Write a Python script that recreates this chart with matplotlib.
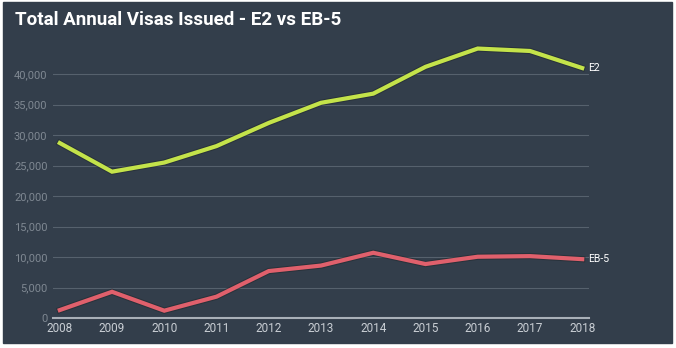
import matplotlib.pyplot as plt
import matplotlib.patheffects as pe
from matplotlib.patches import Rectangle

years = [2008, 2009, 2010, 2011, 2012, 2013, 2014, 2015, 2016, 2017, 2018]
e2 = [28700, 24000, 25500, 28200, 32000, 35300, 36800, 41200, 44200, 43800, 41000]
eb5 = [1300, 4300, 1200, 3500, 7700, 8600, 10700, 8850, 10050, 10150, 9650]
yticks = [0, 5000, 10000, 15000, 20000, 25000, 30000, 35000, 40000]

bg = "#333e4b"
plt.rcParams["font.family"] = ["Roboto", "DejaVu Sans"]

fig = plt.figure(figsize=(6.76, 3.48), dpi=100, facecolor="white")
W, H = 676, 348
fig.add_artist(Rectangle((3 / W, 5 / H), 669 / W, 341 / H,
                         transform=fig.transFigure, color=bg, zorder=-5))

ax = fig.add_axes([53 / W, (H - 318) / H, (589 - 53) / W, (318 - 40) / H])
ax.set_facecolor(bg)
ax.patch.set_alpha(0)
ax.set_zorder(2)

outline = [pe.Stroke(linewidth=4.5, foreground="#222a30", alpha=0.6), pe.Normal()]
ax.plot(years, e2, color="#c4e34a", lw=3, solid_joinstyle="miter",
        path_effects=outline, zorder=3)
ax.plot(years, eb5, color="#e0606c", lw=3, solid_joinstyle="miter",
        path_effects=outline, zorder=3)

ax.text(years[-1] + 0.12, e2[-1], "E2", color="white", fontsize=7.5,
        va="center", ha="left")
ax.text(years[-1] + 0.12, eb5[-1], "EB-5", color="white", fontsize=7.5,
        va="center", ha="left")

ax.set_xlim(2007.87, 2018.13)
ax.set_ylim(0, 45600)
ax.set_yticks(yticks)
ax.set_yticklabels([f"{v:,}" for v in yticks])
ax.set_xticks(years)
ax.set_xticklabels([str(y) for y in years])

ax.grid(axis="y", color="#56616d", lw=0.8)
ax.set_axisbelow(True)
for s in ["top", "right", "left"]:
    ax.spines[s].set_visible(False)
ax.spines["bottom"].set_color("#a9b0b8")
ax.spines["bottom"].set_linewidth(1.5)
ax.tick_params(axis="y", length=0, colors="#7f8892", labelsize=8, pad=4)
ax.tick_params(axis="x", length=0, colors="#c9ced4", labelsize=8.5, pad=3)

fig.text(15 / W, 1 - 20 / H, "Total Annual Visas Issued - E2 vs EB-5",
         color="white", fontsize=13.5, fontweight="bold", va="center", ha="left")

fig.savefig("out.png", dpi=100, facecolor="white")
